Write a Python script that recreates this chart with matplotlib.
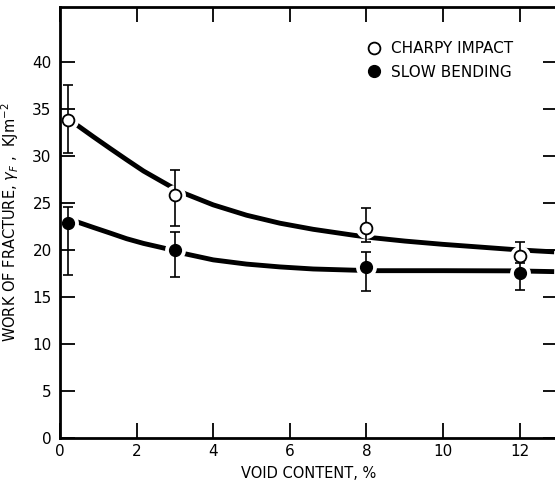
import matplotlib
matplotlib.use('Agg')
import matplotlib.pyplot as plt

# puntos medidos
x_charpy = [0.2, 3, 8, 12]
y_charpy = [33.8, 25.8, 22.3, 19.4]
charpy_hi = [37.6, 28.5, 24.5, 20.8]
charpy_lo = [30.3, 22.6, 20.9, 18.6]

x_slow = [0.2, 3, 8, 12]
y_slow = [22.9, 20.0, 18.2, 17.5]
slow_hi = [24.6, 21.9, 19.8, 19.0]
slow_lo = [17.3, 17.1, 15.6, 15.7]

# curvas trazadas a mano
xc_charpy = [0.44, 0.87, 1.31, 1.74, 2.18, 2.61, 2.87, 3.26, 4.0, 4.87, 5.74, 6.61, 7.7, 8.17, 9, 10, 11, 11.83, 12.45, 12.9]
yc_charpy = [33.3, 32.05, 30.8, 29.6, 28.4, 27.4, 26.8, 26.0, 24.8, 23.7, 22.85, 22.2, 21.55, 21.3, 20.95, 20.6, 20.3, 20.05, 19.9, 19.8]
xc_slow = [0.44, 0.87, 1.31, 1.74, 2.18, 2.61, 2.87, 3.26, 4.0, 4.87, 5.74, 6.61, 7.7, 8.28, 10, 11.83, 12.9]
yc_slow = [23.0, 22.4, 21.8, 21.2, 20.7, 20.3, 20.05, 19.6, 18.95, 18.5, 18.2, 17.98, 17.85, 17.8, 17.8, 17.78, 17.7]

xticks = [0, 2, 4, 6, 8, 10, 12]
yticks = [0, 5, 10, 15, 20, 25, 30, 35, 40]

fig = plt.figure(figsize=(5.55, 4.83), dpi=100)
ax = fig.add_axes([60/555, 1-438/483, 498/555, 431/483])

ax.plot(xc_charpy, yc_charpy, color='black', lw=3.5, solid_capstyle='butt', solid_joinstyle='round', zorder=1)
ax.plot(xc_slow, yc_slow, color='black', lw=3.5, solid_capstyle='butt', solid_joinstyle='round', zorder=1)

# hueco blanco alrededor de los puntos
ax.plot(x_charpy, y_charpy, 'o', ms=15, color='white', mec='none', zorder=2)
ax.plot(x_slow, y_slow, 'o', ms=15, color='white', mec='none', zorder=2)

err_c = [[y - l for y, l in zip(y_charpy, charpy_lo)], [h - y for y, h in zip(y_charpy, charpy_hi)]]
err_s = [[y - l for y, l in zip(y_slow, slow_lo)], [h - y for y, h in zip(y_slow, slow_hi)]]
ax.errorbar(x_charpy, y_charpy, yerr=err_c, fmt='none', ecolor='black', elinewidth=1.2, capsize=3.5, capthick=1.2, zorder=3)
ax.errorbar(x_slow, y_slow, yerr=err_s, fmt='none', ecolor='black', elinewidth=1.2, capsize=3.5, capthick=1.2, zorder=3)

ax.plot(x_charpy, y_charpy, 'o', ms=8.5, mfc='white', mec='black', mew=1.3, ls='none', zorder=4, label='CHARPY IMPACT')
ax.plot(x_slow, y_slow, 'o', ms=8.5, mfc='black', mec='black', ls='none', zorder=4, label='SLOW BENDING')

ax.set_xlim(0, 13)
ax.set_ylim(0, 45.85)
ax.set_xticks(xticks)
ax.set_yticks(yticks)
ax.tick_params(direction='in', length=11, width=1.3, top=True, right=True, labelsize=11)
ax.tick_params(axis='x', pad=4)
ax.tick_params(axis='y', pad=6)
for s in ax.spines.values():
    s.set_linewidth(2)

ax.set_xlabel('VOID CONTENT, %', fontsize=10.5, labelpad=5)
ax.set_ylabel('WORK OF FRACTURE, $\\gamma_F$ ,  KJm$^{-2}$', fontsize=10.5, labelpad=8)

ax.legend(loc='upper left', bbox_to_anchor=(0.6, 0.935), frameon=False, fontsize=11,
          handletextpad=0.5, labelspacing=0.55, borderaxespad=0, handlelength=1.2)

plt.savefig('out.png', dpi=100)
